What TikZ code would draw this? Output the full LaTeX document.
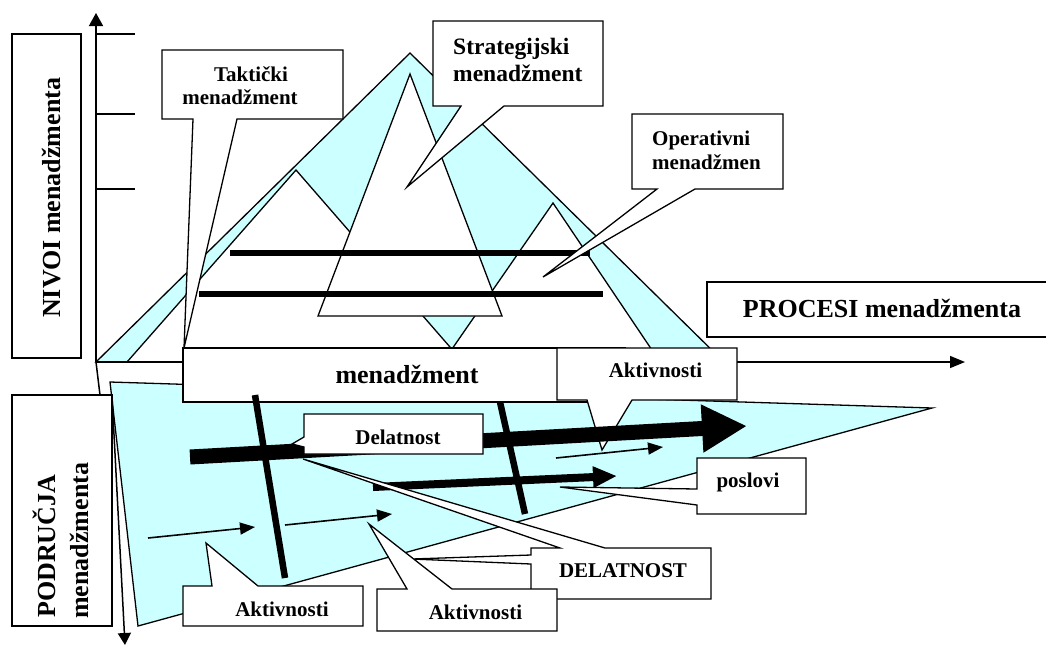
\documentclass[tikz,border=0pt]{standalone}
\usepackage{fontspec}
\setmainfont{Liberation Serif}
\usetikzlibrary{arrows.meta}
\definecolor{paleCyan}{HTML}{CCFFFF}
\begin{document}
\begin{tikzpicture}[x=1pt,y=-1pt,
  outline/.style={draw=black, line width=1.3pt, line join=miter},
  cyanarea/.style={outline, fill=paleCyan},
  whitearea/.style={outline, fill=white},
  calloutshape/.style={outline, fill=white},
  axisline/.style={line width=1.5pt},
  barline/.style={line width=6.5pt},
  thinarrow/.style={line width=1.6pt, -{Triangle[length=15pt,width=12pt]}},
  lbl/.style={font=\bfseries\fontsize{21}{25}\selectfont, inner sep=0pt},
  midlbl/.style={font=\bfseries\fontsize{23.5}{28}\selectfont, inner sep=0pt},
  biglbl/.style={font=\bfseries\fontsize{26}{31}\selectfont, inner sep=0pt},
]
\useasboundingbox (0,0) rectangle (1046,646);
\fill[white] (0,0) rectangle (1046,646);
\clip (0,0) rectangle (1046,646);

% pyramid of management levels
\draw[cyanarea] (96,362) -- (410,53) -- (724,362) -- cycle;
\draw[whitearea] (296,170) -- (127,362) -- (463,362) -- cycle;
\draw[whitearea] (553,203) -- (443,362) -- (660,362) -- cycle;
\draw[whitearea] (410,74) -- (318,316) -- (502,316) -- cycle;
\draw[barline] (230,253) -- (590,253);
\draw[barline] (199,294) -- (603,294);

% axes
\coordinate (O) at (96,362);
\coordinate (Ytop) at (96,13);
\coordinate (Xend) at (965,362);
\draw[axisline, -{Triangle[length=13pt,width=14pt]}] (O) -- (Ytop);
\draw[axisline, -{Triangle[length=15pt,width=12pt]}] (O) -- (Xend);
\foreach \ty in {34,114,189} \draw[line width=1.2pt] (96,\ty) -- (135,\ty);

\draw[outline] (12,34) rectangle (81,358);

% areas of management
\draw[cyanarea] (110,382) -- (932,408) -- (138,626) -- cycle;
\coordinate (Ybot) at (125,645);
\draw[axisline, -{Triangle[length=12pt,width=13pt]}] (O) -- (100,395) -- (112,396) -- (Ybot);
\draw[whitearea] (12,395) rectangle (112,626);

\draw[whitearea] (707,282) rectangle (1058,337);

% callouts of the levels
\draw[calloutshape] (162,50) -- (343,50) -- (343,119) -- (237,119) -- (184,348) -- (193,119) -- (162,119) -- cycle;
\draw[calloutshape] (433,21) -- (603,21) -- (603,106) -- (504,106) -- (407,187) -- (461,106) -- (433,106) -- cycle;
\draw[calloutshape] (632,114) -- (783,114) -- (783,189) -- (695,189) -- (543,277) -- (657,189) -- (632,189) -- cycle;

\draw[whitearea] (183,348) rectangle (625,402);
\draw[calloutshape] (557,348) -- (737,348) -- (737,400) -- (632,400) -- (602,450) -- (587,400) -- (557,400) -- cycle;

% flows of activities
\coordinate (A1s) at (190,457); \coordinate (A1e) at (747,426);
\coordinate (A2s) at (373,487); \coordinate (A2e) at (617,476);
\draw[line width=15pt, -{Triangle[length=45pt,width=45pt]}] (A1s) -- (A1e);
\draw[line width=8pt, -{Triangle[length=24pt,width=20pt]}] (A2s) -- (A2e);
\draw[line width=6.5pt] (255,395) -- (285,578);
\draw[line width=6.5pt] (500,402) -- (525,514);
\draw[thinarrow] (148,538) -- (255,527);
\draw[thinarrow] (285,525) -- (392,514);
\draw[thinarrow] (556,458) -- (663,447);

% callouts of the activities
\draw[calloutshape] (304,414) -- (483,414) -- (483,454) -- (304,454) -- (304,447) -- (292,444) -- (304,437) -- cycle;
\draw[calloutshape] (531,548) -- (560,548) -- (303,459) -- (605,548) -- (711,548) -- (711,599) -- (531,599) -- (531,564) -- (412,559) -- (531,555) -- cycle;
\draw[calloutshape] (697,458) -- (806,458) -- (806,514) -- (697,514) -- (697,505) -- (560,487) -- (697,489) -- cycle;
\draw[calloutshape] (377,589) -- (407,589) -- (369,524) -- (452,589) -- (557,589) -- (557,631) -- (377,631) -- cycle;
\draw[calloutshape] (183,586) -- (212,586) -- (206,543) -- (258,586) -- (363,586) -- (363,626) -- (183,626) -- cycle;

% labels
\node[biglbl, rotate=90, anchor=base west] (nivoi) at (60,318) {NIVOI menadžmenta};
\node[biglbl, rotate=90, anchor=base west] (podrucja) at (55,618) {PODRUČJA};
\node[biglbl, rotate=90, anchor=base west] (podrucja2) at (88,619) {menadžmenta};
\node[biglbl, anchor=base] (procesi) at (882,317) {PROCESI menadžmenta};
\node[biglbl, anchor=base] (menadzment) at (407,383) {menadžment};
\node[lbl, anchor=base] (takticki) at (251,81) {Taktički};
\node[lbl, anchor=base] (takticki2) at (240,104) {menadžment};
\node[midlbl, anchor=base west] (strateg) at (453,54) {Strategijski};
\node[midlbl, anchor=base west] (strateg2) at (453,81) {menadžment};
\node[lbl, anchor=base west] (operat) at (652,145) {Operativni};
\node[lbl, anchor=base west] (operat2) at (652,169) {menadžmen};
\node[lbl, anchor=base] (akt1) at (655.5,377.5) {Aktivnosti};
\node[lbl, anchor=base] (delat) at (398,444) {Delatnost};
\node[lbl, anchor=base] (delatbig) at (623,577.5) {DELATNOST};
\node[lbl, anchor=base] (akt2) at (475.5,619) {Aktivnosti};
\node[lbl, anchor=base] (akt3) at (282,616) {Aktivnosti};
\node[lbl, anchor=base] (poslovi) at (748,487) {poslovi};
\end{tikzpicture}
\end{document}
